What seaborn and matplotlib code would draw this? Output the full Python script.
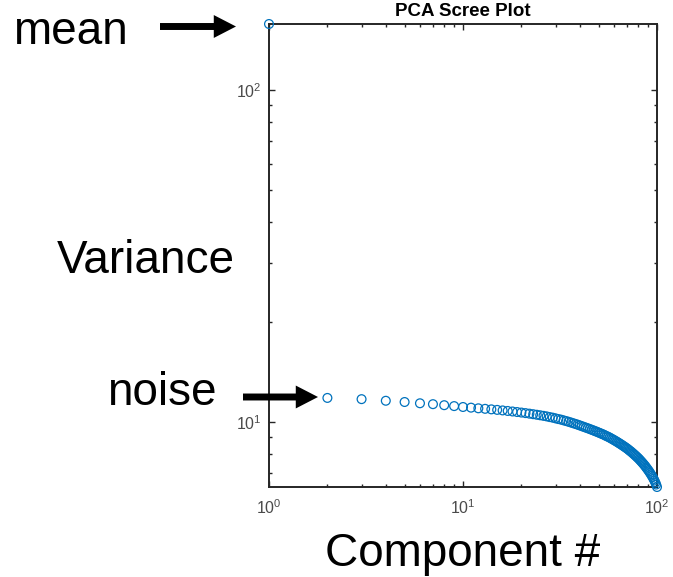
import matplotlib
matplotlib.use("Agg")
import matplotlib.pyplot as plt
from matplotlib.ticker import NullFormatter, LogLocator
import seaborn as sns
import pandas as pd

# Principal component variances (component 1 carries the mean)
components = list(range(1, 101))
variance = [
    158.0, 11.80, 11.70, 11.57, 11.47, 11.37, 11.30, 11.22, 11.15, 11.08,
    11.03, 10.98, 10.94, 10.90, 10.86, 10.82, 10.78, 10.74, 10.70, 10.66,
    10.62, 10.58, 10.54, 10.50, 10.46, 10.42, 10.38, 10.33, 10.29, 10.24,
    10.19, 10.15, 10.10, 10.05, 10.00, 9.95, 9.90, 9.85, 9.80, 9.75,
    9.70, 9.65, 9.60, 9.56, 9.51, 9.46, 9.42, 9.37, 9.33, 9.28,
    9.24, 9.19, 9.15, 9.10, 9.05, 9.01, 8.96, 8.91, 8.86, 8.81,
    8.76, 8.71, 8.66, 8.61, 8.56, 8.51, 8.46, 8.41, 8.36, 8.31,
    8.26, 8.20, 8.15, 8.10, 8.04, 7.99, 7.93, 7.88, 7.82, 7.77,
    7.71, 7.65, 7.59, 7.53, 7.47, 7.41, 7.35, 7.28, 7.22, 7.15,
    7.09, 7.02, 6.95, 6.88, 6.81, 6.73, 6.65, 6.56, 6.47, 6.36,
]

title = "PCA Scree Plot"
x_label = "Component #"
y_label = "Variance"
callouts = ["mean", "noise"]

sns.set_style("ticks")
plt.rcParams["font.family"] = ["Liberation Sans", "DejaVu Sans"]
plt.rcParams["mathtext.default"] = "regular"

df = pd.DataFrame({"component": components, "variance": variance})

W, H = 673, 577
fig = plt.figure(figsize=(W / 100, H / 100), dpi=100)
ax = fig.add_axes([269 / W, 1 - 487 / H, (657 - 269) / W, (487 - 24) / H])

sns.scatterplot(data=df, x="component", y="variance", ax=ax,
                marker="o", s=40, facecolors="none", edgecolor="#0072BD",
                linewidth=0.9, clip_on=False, legend=False, zorder=5)

ax.set_xscale("log")
ax.set_yscale("log")
ax.set_xlim(1, 100)
ax.set_ylim(min(variance), max(variance))
ax.set_xlabel("")
ax.set_ylabel("")

for axis in (ax.xaxis, ax.yaxis):
    axis.set_major_locator(LogLocator(base=10))
    axis.set_minor_locator(LogLocator(base=10, subs=range(2, 10)))
    axis.set_minor_formatter(NullFormatter())

axc = "#262626"
for sp in ax.spines.values():
    sp.set_visible(True)
    sp.set_color(axc)
    sp.set_linewidth(1.4)
ax.tick_params(which="both", direction="in", top=True, right=True,
               color=axc, labelcolor="#4a4a4a", labelsize=11.5, width=1.0)
ax.tick_params(which="major", length=4.5)
ax.tick_params(axis="x", which="major", pad=8)
ax.tick_params(axis="y", which="major", pad=5)
ax.tick_params(which="minor", length=2.2)

ax.set_title(title, fontsize=13.5, fontweight="bold", color="black", pad=6)

# Large annotation text around the axes
big = 33
fig.text(70 / W, 1 - 44 / H, callouts[0], fontsize=big, ha="center",
         va="baseline", color="black")
fig.text(146 / W, 1 - 273 / H, y_label, fontsize=big, ha="center",
         va="baseline", color="black")
fig.text(162 / W, 1 - 405 / H, callouts[1], fontsize=big, ha="center",
         va="baseline", color="black")
fig.text(463 / W, 1 - 566 / H, x_label, fontsize=big, ha="center",
         va="baseline", color="black")

arrow_style = "simple,head_length=16,head_width=16.5,tail_width=5"
for (x0, x1, y) in [(160, 236, 26.5), (243, 318, 397)]:
    ax.annotate("", xy=(x1, H - y), xytext=(x0, H - y),
                xycoords="figure pixels", textcoords="figure pixels",
                arrowprops=dict(arrowstyle=arrow_style, color="black",
                                mutation_scale=1, shrinkA=0, shrinkB=0, lw=0),
                annotation_clip=False)

fig.savefig("out.png", dpi=100)
